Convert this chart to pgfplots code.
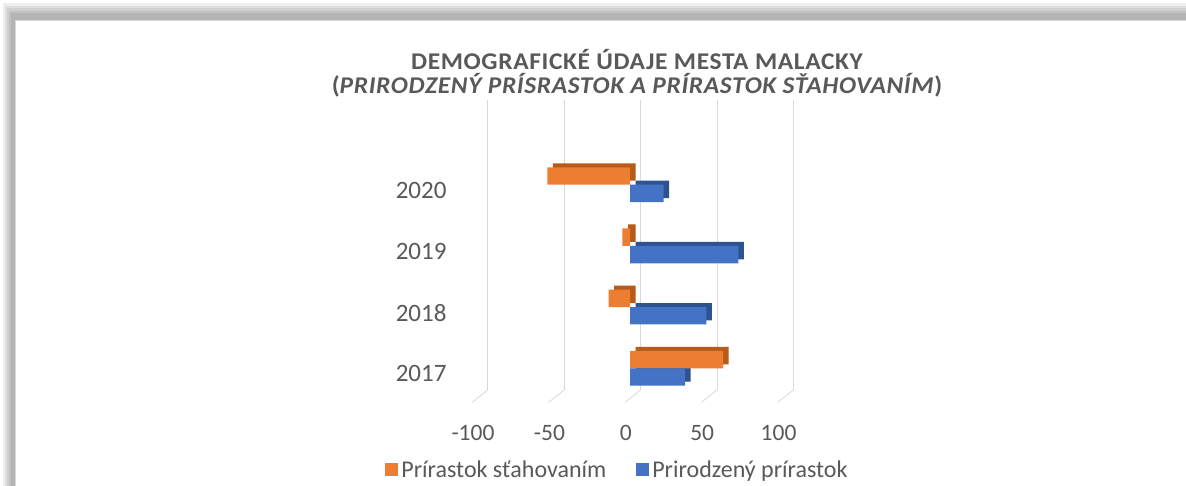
\documentclass[border=0pt]{standalone}
\usepackage{pgfplots}
\pgfplotsset{compat=1.18}
\usepackage{fontspec}
\setmainfont{Carlito}
\definecolor{txt}{HTML}{595959}
\definecolor{orng}{HTML}{ED7D31}
\definecolor{orngd}{HTML}{B85A1A}
\definecolor{blu}{HTML}{4472C4}
\definecolor{blud}{HTML}{2F5291}
\definecolor{grd}{HTML}{D9D9D9}
\pgfplotsset{
  barax/.style={anchor=south west, scale only axis, width=305.6pt, height=244.8pt,
    xmin=-100, xmax=100, ymin=-0.5, ymax=3.5, xbar, bar width=17.4pt,
    axis line style={draw=none}, major tick length=0pt, clip=false,
    /pgf/number format/assume math mode=true},
}
\newfontfamily\titlefont[FakeStretch=1.06, LetterSpace=2.6]{Carlito}
\begin{document}
\begin{tikzpicture}[x=1pt,y=1pt]
\clip (0,0) rectangle (1186,486);
\fill[white] (0,0) rectangle (1186,486);
% frame shadow
\foreach \i in {0,2,4,6,8}{
  \fill[black,opacity=0.065] (3+\i,-20) rectangle (1220,483-1.3*\i);
}
\fill[white] (15,-20) rectangle (1220,466);
\draw[black!15,line width=0.8pt] (15,-20) rectangle (1220,466);
% title
\node[anchor=base, font=\titlefont\fontsize{24}{28}\selectfont\bfseries, text=txt, inner sep=0pt] at (637,416) {DEMOGRAFICKÉ ÚDAJE MESTA MALACKY};
\node[anchor=base, font=\titlefont\fontsize{24}{28}\selectfont\bfseries, text=txt, inner sep=0pt] at (637,392.5) {(\textit{PRIRODZENÝ PRÍSRASTOK A PRÍRASTOK SŤAHOVANÍM})};
% gridlines (back wall)
\begin{axis}[at={(487.7pt,96pt)}, anchor=south west, scale only axis, width=305.6pt, height=290pt,
  xmin=-100, xmax=100, ymin=0, ymax=1, axis line style={draw=none},
  xtick={-100,-50,0,50,100}, xticklabels={}, ytick=\empty, major tick length=0pt,
  xmajorgrids, grid style={grd, line width=0.8pt}, clip=false]
\pgfplotsinvokeforeach{-100,-50,0,50,100}{\draw[grd, line width=0.8pt] (axis cs:#1,0) -- ++(-15.4pt,-12.3pt);}
\end{axis}
% depth faces
\begin{axis}[barax, at={(482.7pt,91.1pt)}, xtick=\empty, ytick=\empty]
\addplot[fill=orngd, draw=none, bar shift=8.7pt] coordinates {(61,0) (-14,1) (-5,2) (-54,3)};
\addplot[fill=blud, draw=none, bar shift=-8.7pt] coordinates {(36,0) (50,1) (71,2) (22,3)};
\end{axis}
% front faces
\begin{axis}[barax, at={(477.2pt,87.1pt)},
  xtick={-100,-50,0,50,100}, xticklabels={-100,-50,0,50,100},
  ytick={0,1,2,3}, yticklabels={2017,2018,2019,2020},
  xticklabel style={font=\fontsize{23.5}{28}\selectfont, text=txt, anchor=base, yshift=-41.8pt, xshift=-4.2pt, inner sep=0pt},
  yticklabel style={font=\fontsize{25}{30}\selectfont, text=txt, anchor=east, xshift=-30.5pt, yshift=-5.5pt, inner sep=0pt},
  legend columns=2,
  legend style={at={(0.4607,-0.2904)}, anchor=center, draw=none, fill=none,
    font=\fontsize{24}{28}\selectfont, text=txt, inner sep=0pt,
    /tikz/every even column/.append style={column sep=27pt},
    nodes={inner sep=0pt, inner xsep=3pt}},
  legend image code/.code={\fill[#1, draw=none] (-3pt,-6pt) rectangle (10pt,7pt);}]
\addplot[fill=orng, draw=none, bar shift=8.7pt] coordinates {(61,0) (-14,1) (-5,2) (-54,3)};
\addplot[fill=blu, draw=none, bar shift=-8.7pt] coordinates {(36,0) (50,1) (71,2) (22,3)};
\legend{Prírastok sťahovaním, Prirodzený prírastok}
\end{axis}
\end{tikzpicture}
\end{document}
